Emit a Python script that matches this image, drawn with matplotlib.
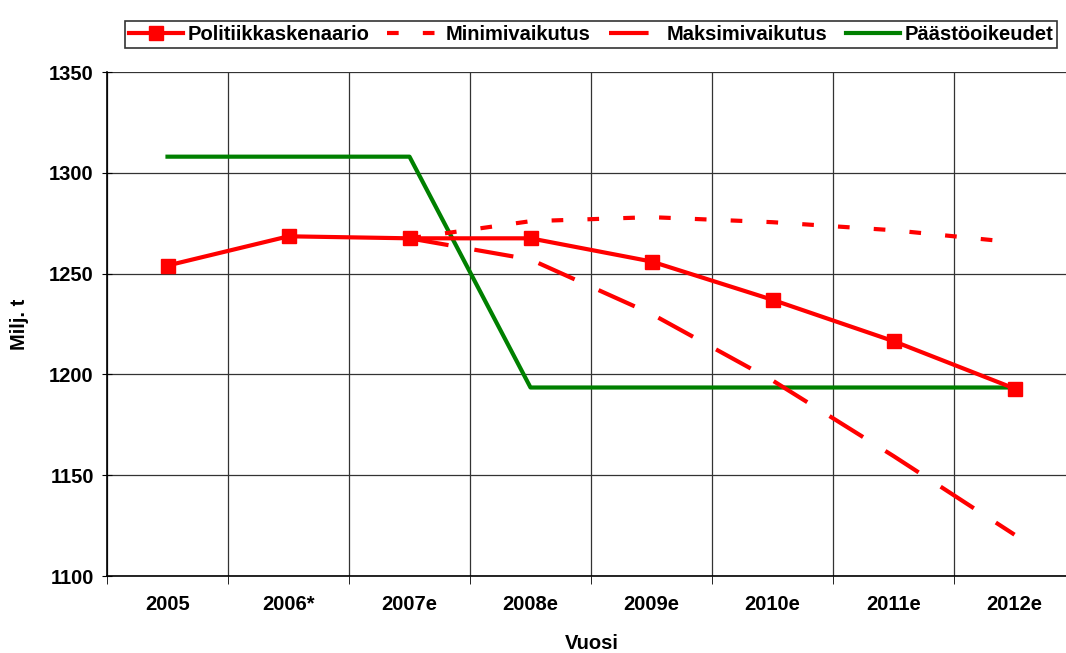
import matplotlib
matplotlib.use("Agg")
import matplotlib.pyplot as plt
import numpy as np

plt.rcParams["font.family"] = ["Liberation Sans", "DejaVu Sans"]
plt.rcParams["font.weight"] = "bold"

# data
years = ["2005", "2006*", "2007e", "2008e", "2009e", "2010e", "2011e", "2012e"]
politiikka = [1254, 1268.5, 1267.5, 1267.5, 1256, 1237, 1216.5, 1193]
minimi = [None, None, 1267.5, 1276, 1278, 1275.5, 1271.5, 1265.5]
maksimi = [None, None, 1267.5, 1257, 1230, 1197, 1159.5, 1120.5]
paastot = [1308, 1308, 1308, 1193.5, 1193.5, 1193.5, 1193.5, 1193.5]

x = np.arange(len(years))
mini = np.array([np.nan if v is None else v for v in minimi], dtype=float)
maxi = np.array([np.nan if v is None else v for v in maksimi], dtype=float)

fs = 14.5
fig = plt.figure(figsize=(10.66, 6.53), dpi=100)
ax = fig.add_axes([107 / 1066, 1 - 576 / 653, 968 / 1066, 504 / 653])

red = "#FF0000"
green = "#008000"
ax.plot(x, politiikka, color=red, lw=3, marker="s", ms=9.5,
        label="Politiikkaskenaario", zorder=5)
ax.plot(x, mini, color=red, lw=3, dashes=(2.8, 5.8), label="Minimivaikutus", zorder=4)
ax.plot(x, maxi, color=red, lw=3, dashes=(9.5, 6.3), label="Maksimivaikutus", zorder=4)
ax.plot(x, paastot, color=green, lw=3, label="Päästöoikeudet", zorder=3)

ax.set_xlim(-0.5, len(years) - 0.5)
ax.set_ylim(1100, 1350)
ax.set_yticks(np.arange(1100, 1351, 50))
ax.set_xticks(x)
ax.set_xticklabels(years)
ax.set_xticks(np.arange(-0.5, len(years), 1), minor=True)
ax.tick_params(axis="x", which="major", length=0, pad=14, labelsize=fs)
ax.tick_params(axis="x", which="minor", length=6, direction="out")
ax.tick_params(axis="y", length=7, direction="inout", pad=6, labelsize=fs)
ax.grid(axis="y", which="major", color="#333333", lw=0.9)
ax.grid(axis="x", which="minor", color="#333333", lw=0.9)
for s in ["top", "right"]:
    ax.spines[s].set_visible(False)
ax.spines["left"].set_linewidth(1.2)
ax.spines["bottom"].set_linewidth(1.2)

ax.set_xlabel("Vuosi", fontsize=fs, fontweight="bold")
ax.set_ylabel("Milj. t", fontsize=fs, fontweight="bold")
ax.xaxis.set_label_coords((592 - 107) / 968, -(634 - 576) / 504)
ax.yaxis.set_label_coords(-(107 - 29) / 968, (576 - 324) / 504)

leg = fig.legend(loc="upper center", bbox_to_anchor=(591 / 1066, 1 - 11 / 653),
                 ncol=4, frameon=True, fancybox=False, shadow=False,
                 handlelength=2.7, handletextpad=0.2, columnspacing=0.9,
                 borderpad=0.2, numpoints=1, prop={"weight": "bold", "size": fs})
leg.get_frame().set_edgecolor("black")
leg.get_frame().set_linewidth(1.2)

fig.savefig("out.png", dpi=100)
